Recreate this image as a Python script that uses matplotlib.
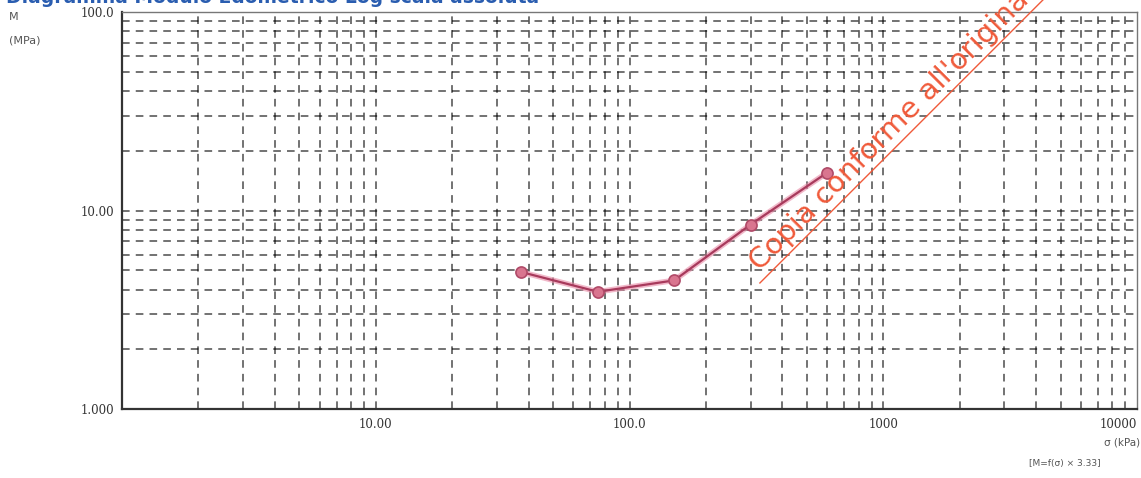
import matplotlib.pyplot as plt
import numpy as np

# data
pressure = [37.5, 75.0, 150.0, 300.0, 600.0]   # kPa
modulus = [4.9, 3.9, 4.45, 8.5, 15.5]          # MPa

x_ticks = [10, 100, 1000, 10000]
x_labels = ["10.00", "100.0", "1000", "10000"]
y_ticks = [1, 10, 100]
y_labels = ["1.000", "10.00", "100.0"]


def main():
    fig = plt.figure(figsize=(11.41, 4.78), dpi=100)
    ax = fig.add_axes([0.107, 0.144, 0.8895, 0.831])
    ax.set_xscale("log")
    ax.set_yscale("log")
    ax.set_xlim(1, 10000)
    ax.set_ylim(1, 100)

    # dashed grid at every minor/major decade step
    for dec in [1, 10, 100, 1000]:
        for k in range(2, 11):
            v = dec * k
            if v < 10000:
                ax.axvline(v, color="black", lw=1.1, ls=(0, (5, 4)), alpha=0.7, zorder=1)
    for dec in [1, 10]:
        for k in range(2, 11):
            v = dec * k
            if v < 100:
                ax.axhline(v, color="black", lw=1.1, ls=(0, (5, 4)), alpha=0.7, zorder=1)

    ax.plot(pressure, modulus, color="#e88aa6", lw=4, alpha=0.6, zorder=3)
    ax.plot(pressure, modulus, color="#a83a5c", lw=1.6, zorder=4,
            marker="o", ms=8, mfc="#d9758f", mec="#b04a68", mew=1.2)

    ax.set_xticks(x_ticks)
    ax.set_xticklabels(x_labels, family="DejaVu Serif", fontsize=8.5, color="#333333")
    ax.get_xticklabels()[-1].set_ha("right")
    ax.set_yticks(y_ticks)
    ax.set_yticklabels(y_labels, family="DejaVu Serif", fontsize=8.5, color="#333333")
    ax.minorticks_off()
    ax.tick_params(length=0, pad=6)

    for s in ["left", "bottom"]:
        ax.spines[s].set_color("#333333")
        ax.spines[s].set_linewidth(1.6)
    for s in ["top", "right"]:
        ax.spines[s].set_color("#777777")
        ax.spines[s].set_linewidth(1.0)

    fig.text(0.008, 0.958, "M", fontsize=8, color="#555555")
    fig.text(0.008, 0.908, "(MPa)", fontsize=8, color="#555555")
    fig.text(0.999, 0.068, "σ (kPa)", fontsize=7.5, color="#555555", ha="right")
    fig.text(0.965, 0.025, "[M=f(σ) × 3.33]", fontsize=6.5, color="#555555", ha="right")

    # title is cut off at the top edge, as in the source
    fig.text(0.005, 1.006, "Diagramma Modulo Edometrico Log scala assoluta",
             fontsize=13.5, color="#2a5db0", fontweight="bold", va="center")

    fig.text(0.666, 0.432, "Copia conforme all'originale", fontsize=21,
             color="#f05a3a", rotation=45, rotation_mode="anchor", ha="left", va="baseline")
    fig.add_artist(plt.Line2D([0.666, 0.914], [0.408, 1.0], color="#f05a3a", lw=1.0))

    fig.savefig("out.png", dpi=100)


main()
